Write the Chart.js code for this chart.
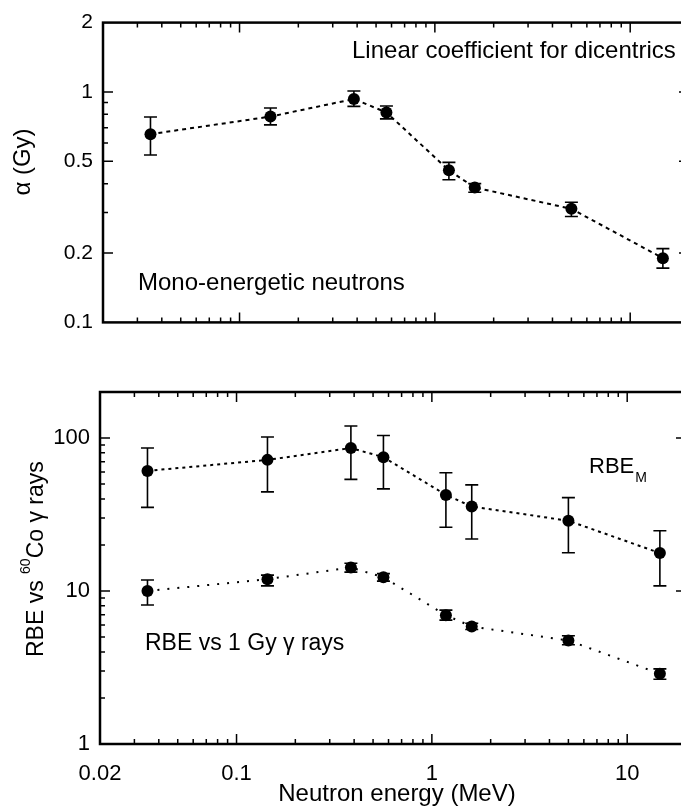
<!DOCTYPE html>
<html>
<head>
<meta charset="utf-8">
<script src="https://cdn.jsdelivr.net/npm/chart.js@4.4.1/dist/chart.umd.min.js"></script>
<style>
html, body { margin: 0; padding: 0; background: #fff; overflow: hidden; width: 681px; height: 811px; }
#topBox { position: absolute; left: 0; top: 0; width: 700px; height: 345px; }
#bottomBox { position: absolute; left: 0; top: 355px; width: 700px; height: 456px; }
</style>
</head>
<body>
<div id="topBox"><canvas id="alphaChart"></canvas></div>
<div id="bottomBox"><canvas id="rbeChart"></canvas></div>
<script>
// neutron energies (MeV)
const energies = [0.035, 0.144, 0.385, 0.565, 1.18, 1.6, 5.0, 14.7];

// linear coefficient alpha (Gy^-1) with error limits
const alpha = [0.656, 0.782, 0.932, 0.815, 0.457, 0.385, 0.311, 0.19];
const alphaLow = [0.533, 0.72, 0.866, 0.764, 0.416, 0.367, 0.288, 0.172];
const alphaHigh = [0.779, 0.852, 1.01, 0.869, 0.495, 0.40, 0.332, 0.209];

// RBE_M vs 60Co gamma rays
const rbeM = [61, 72, 86, 75, 42.5, 35.7, 28.8, 17.7];
const rbeMLow = [35.2, 44.5, 53.7, 46.5, 26.1, 21.9, 17.8, 10.8];
const rbeMHigh = [86, 101.5, 120, 104, 59.3, 49.4, 40.8, 24.8];

// RBE vs 1 Gy gamma rays
const rbe1 = [10.0, 11.96, 14.25, 12.3, 6.95, 5.86, 4.75, 2.88];
const rbe1Low = [8.1, 10.8, 13.3, 11.6, 6.45, 5.6, 4.45, 2.65];
const rbe1High = [11.8, 12.7, 15.2, 13.0, 7.5, 6.15, 5.1, 3.1];

// tick labels
const xTicks = [0.02, 0.1, 1, 10];
const alphaTicks = [0.1, 0.2, 0.5, 1, 2];
const rbeTicks = [1, 10, 100];

const FONT = '"Liberation Sans", Arial, Helvetica, sans-serif';

function points(ys) {
    return energies.map((e, i) => ({ x: e, y: ys[i] }));
}

// all 1..9 x 10^k values inside the axis range
function logSteps(min, max) {
    const out = [];
    for (let e = Math.floor(Math.log10(min)); e <= Math.ceil(Math.log10(max)); e++) {
        for (let m = 1; m < 10; m++) {
            const v = m * Math.pow(10, e);
            if (v > min * 1.0001 && v < max * 0.9999) out.push(v);
        }
    }
    return out;
}

function isMajor(v, labels) {
    const l = Math.log10(v);
    return Math.abs(l - Math.round(l)) < 1e-6 || labels.some(t => Math.abs(t - v) < v * 1e-6);
}

// error bars under the markers
const errorBars = {
    id: 'errorBars',
    beforeDatasetsDraw(chart) {
        const { ctx, scales: { x, y } } = chart;
        ctx.save();
        ctx.strokeStyle = '#000';
        ctx.lineWidth = 1.6;
        chart.data.datasets.forEach(ds => {
            ds.data.forEach((p, i) => {
                const px = x.getPixelForValue(p.x);
                const lo = y.getPixelForValue(ds.errLow[i]);
                const hi = y.getPixelForValue(ds.errHigh[i]);
                ctx.beginPath();
                ctx.moveTo(px, lo); ctx.lineTo(px, hi);
                ctx.moveTo(px - 6.5, lo); ctx.lineTo(px + 6.5, lo);
                ctx.moveTo(px - 6.5, hi); ctx.lineTo(px + 6.5, hi);
                ctx.stroke();
            });
        });
        ctx.restore();
    }
};

// box with inward ticks on all four sides
const frame = {
    id: 'frame',
    afterDraw(chart) {
        const { ctx, chartArea: a, scales: { x, y } } = chart;
        const yLabels = chart.options.scales.y.tickValues;
        ctx.save();
        ctx.strokeStyle = '#000';
        ctx.lineWidth = 1.5;
        ctx.beginPath();
        logSteps(x.min, x.max).forEach(v => {
            const px = x.getPixelForValue(v);
            const len = isMajor(v, xTicks) ? 10 : 5;
            ctx.moveTo(px, a.bottom); ctx.lineTo(px, a.bottom - len);
            ctx.moveTo(px, a.top); ctx.lineTo(px, a.top + len);
        });
        logSteps(y.min, y.max).forEach(v => {
            const py = y.getPixelForValue(v);
            const len = isMajor(v, yLabels) ? 10 : 5;
            ctx.moveTo(a.left, py); ctx.lineTo(a.left + len, py);
            ctx.moveTo(a.right, py); ctx.lineTo(a.right - len, py);
        });
        ctx.stroke();
        ctx.lineWidth = 2.5;
        ctx.strokeRect(a.left, a.top, a.right - a.left, a.bottom - a.top);
        ctx.restore();
    }
};

function lineSet(ys, lo, hi, dash) {
    return {
        data: points(ys),
        errLow: lo,
        errHigh: hi,
        borderColor: '#000',
        borderWidth: 2,
        borderDash: dash,
        pointRadius: 6,
        pointHoverRadius: 6,
        pointBackgroundColor: '#000',
        pointBorderWidth: 0,
        fill: false,
        tension: 0
    };
}

function baseOptions(yMin, yMax, yLabels, yFont, yWidth, xHeight, showX, pad) {
    return {
        responsive: true,
        maintainAspectRatio: false,
        animation: false,
        layout: { padding: pad },
        plugins: { legend: { display: false }, tooltip: { enabled: false } },
        scales: {
            x: {
                type: 'logarithmic',
                min: 0.02,
                max: 20,
                grid: { display: false, drawTicks: false },
                border: { display: false },
                afterBuildTicks: s => { s.ticks = xTicks.map(v => ({ value: v })); },
                afterFit: s => { s.height = xHeight; },
                ticks: {
                    display: showX,
                    padding: 17,
                    maxRotation: 0,
                    autoSkip: false,
                    color: '#000',
                    font: { family: FONT, size: 22 },
                    callback: v => String(v)
                }
            },
            y: {
                type: 'logarithmic',
                min: yMin,
                max: yMax,
                tickValues: yLabels,
                grid: { display: false, drawTicks: false },
                border: { display: false },
                afterBuildTicks: s => { s.ticks = yLabels.map(v => ({ value: v })); },
                afterFit: s => { s.width = yWidth; },
                ticks: {
                    padding: 10,
                    autoSkip: false,
                    color: '#000',
                    font: { family: FONT, size: yFont },
                    callback: v => String(v)
                }
            }
        }
    };
}

// texts of the upper panel
const alphaTexts = {
    id: 'alphaTexts',
    afterDraw(chart) {
        const ctx = chart.ctx;
        ctx.save();
        ctx.fillStyle = '#000';
        ctx.textBaseline = 'alphabetic';
        ctx.font = '24px ' + FONT;
        ctx.fillText('Linear coefficient for dicentrics', 352, 58);
        ctx.fillText('Mono-energetic neutrons', 138, 290);
        ctx.translate(30, 162);
        ctx.rotate(-Math.PI / 2);
        ctx.textAlign = 'center';
        ctx.font = '24px ' + FONT;
        ctx.fillText('\u03b1 (Gy)', 0, 0);
        ctx.restore();
    }
};

// texts of the lower panel (canvas starts 355px down the page)
const rbeTexts = {
    id: 'rbeTexts',
    afterDraw(chart) {
        const ctx = chart.ctx;
        ctx.save();
        ctx.fillStyle = '#000';
        ctx.textBaseline = 'alphabetic';
        ctx.font = '22px ' + FONT;
        ctx.fillText('RBE', 589, 118);
        const w = ctx.measureText('RBE').width;
        ctx.font = '14px ' + FONT;
        ctx.fillText('M', 589 + w + 1, 127);
        ctx.font = '23px ' + FONT;
        ctx.fillText('RBE vs 1 Gy \u03b3 rays', 145, 295);
        ctx.font = '24px ' + FONT;
        ctx.textAlign = 'center';
        ctx.fillText('Neutron energy (MeV)', 397, 446);
        // rotated y title with superscript
        ctx.textAlign = 'left';
        ctx.translate(43, 302);
        ctx.rotate(-Math.PI / 2);
        ctx.font = '23px ' + FONT;
        ctx.fillText('RBE vs ', 0, 0);
        let off = ctx.measureText('RBE vs ').width;
        ctx.font = '14px ' + FONT;
        ctx.fillText('60', off, -13);
        off += ctx.measureText('60').width;
        ctx.font = '23px ' + FONT;
        ctx.fillText('Co \u03b3 rays', off, 0);
        ctx.restore();
    }
};

new Chart(document.getElementById('alphaChart'), {
    type: 'line',
    data: { datasets: [lineSet(alpha, alphaLow, alphaHigh, [4, 4])] },
    options: baseOptions(0.1, 2, alphaTicks, 21, 103, 18, false, { top: 15, right: 11, left: 0, bottom: 0 }),
    plugins: [errorBars, frame, alphaTexts]
});

new Chart(document.getElementById('rbeChart'), {
    type: 'line',
    data: {
        datasets: [
            lineSet(rbeM, rbeMLow, rbeMHigh, [3, 4]),
            lineSet(rbe1, rbe1Low, rbe1High, [2, 8])
        ]
    },
    options: baseOptions(1, 200, rbeTicks, 22, 100, 67, true, { top: 37, right: 14, left: 0, bottom: 0 }),
    plugins: [errorBars, frame, rbeTexts]
});
</script>
</body>
</html>
